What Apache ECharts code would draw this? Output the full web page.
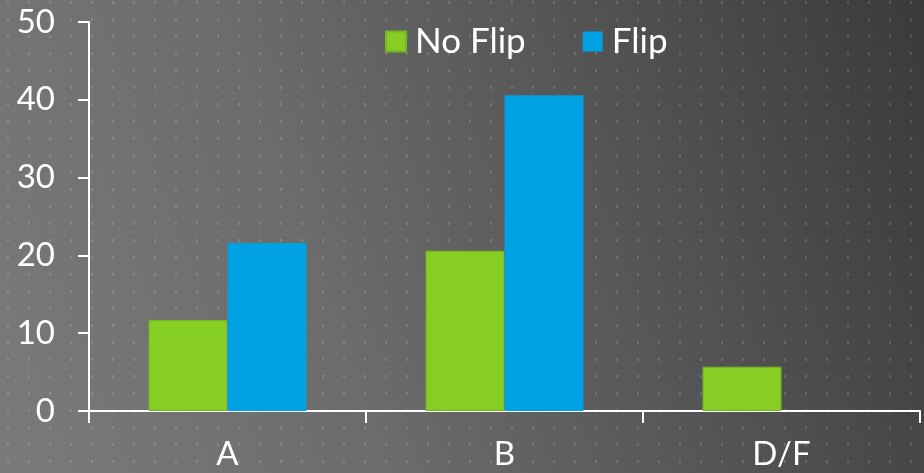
<!DOCTYPE html>
<html>
<head>
<meta charset="utf-8">
<script src="https://cdn.jsdelivr.net/npm/echarts@6/dist/echarts.min.js"></script>
<style>
  html, body { margin: 0; padding: 0; }
  #main {
    width: 924px; height: 473px;
    background-color: #5a5a5a;
    background-image:
      url("data:image/svg+xml,%3Csvg xmlns='http://www.w3.org/2000/svg' width='21' height='17'%3E%3Crect x='7' y='1' width='2' height='3' fill='rgba(255,255,255,0.14)'/%3E%3C/svg%3E"),
      linear-gradient(70deg, #7a7a7a 0%, #6c6c6c 35%, #4e4e4e 75%, #3a3a3a 100%);
  }
</style>
</head>
<body>
<div id="main"></div>
<script>
// 数据
var categories = ['A', 'B', 'D/F'];
var noFlip = [11.7, 20.6, 5.7];
var flip = [21.6, 40.6, null];
var yTicks = { min: 0, max: 50, interval: 10 };

var myChart = echarts.init(document.getElementById('main'));

var font = 'Lato, "Open Sans", sans-serif';

var option = {
    backgroundColor: 'transparent',
    textStyle: { fontFamily: font },
    legend: {
        top: 19,
        left: 380,
        itemWidth: 20,
        itemHeight: 20,
        itemGap: 57,
        icon: 'rect',
        textStyle: { color: '#fff', fontSize: 35, fontFamily: font, padding: [0, 0, 0, 4] },
        data: ['No Flip', 'Flip']
    },
    grid: { left: 89, right: 4, top: 22, bottom: 62, containLabel: false },
    xAxis: {
        type: 'category',
        data: categories,
        axisLine: { lineStyle: { color: '#fff', width: 2 } },
        axisTick: { show: true, length: 12, lineStyle: { color: '#fff', width: 2 } },
        axisLabel: { color: '#fff', fontSize: 33, margin: 27, fontFamily: font },
        splitLine: { show: false }
    },
    yAxis: {
        type: 'value',
        min: yTicks.min,
        max: yTicks.max,
        interval: yTicks.interval,
        axisLine: { show: true, lineStyle: { color: '#fff', width: 2 } },
        axisTick: { show: true, length: 11, lineStyle: { color: '#fff', width: 2 } },
        axisLabel: { color: '#fff', fontSize: 33, margin: 34, fontFamily: font },
        splitLine: { show: false }
    },
    series: [
        {
            name: 'No Flip',
            type: 'bar',
            data: noFlip,
            barGap: 0,
            barCategoryGap: '43%',
            itemStyle: { color: '#86CD24', borderColor: '#78b422', borderWidth: 1 }
        },
        {
            name: 'Flip',
            type: 'bar',
            data: flip,
            itemStyle: { color: '#00A2E3' }
        }
    ]
};

myChart.setOption(option);
</script>
</body>
</html>
